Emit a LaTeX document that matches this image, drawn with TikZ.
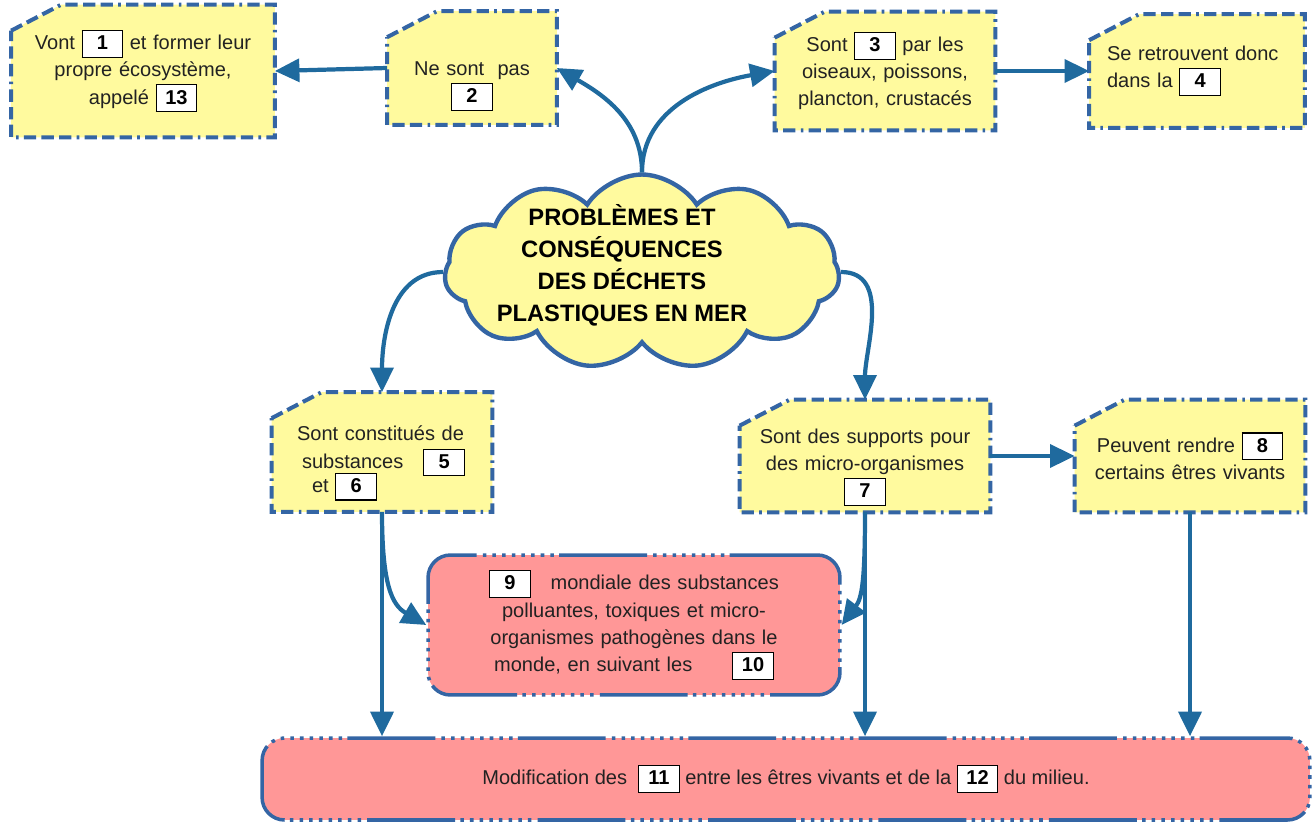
\documentclass[tikz,border=0pt]{standalone}
\usepackage{fontspec}
\setmainfont{Liberation Sans}
\usepackage{tikz}
\usetikzlibrary{shapes.symbols}
\usetikzlibrary{positioning, arrows.meta, backgrounds, calc}

\definecolor{boxline}{HTML}{3465A4}
\definecolor{arrowblue}{HTML}{1F6A9E}
\definecolor{boxyellow}{HTML}{FFFA9E}
\definecolor{boxred}{HTML}{FF9797}
\definecolor{txt}{HTML}{222222}

\setlength{\fboxsep}{1.8pt}
\setlength{\fboxrule}{0.6pt}
\newcommand{\nb}[1]{\fcolorbox{black}{white}{\makebox[0.66cm]{\rule[-2.2pt]{0pt}{11pt}\bfseries\color{black}#1}}}

\tikzset{
  card/.style={inner sep=0pt, align=center, text=txt, font=\fontsize{11.4}{15.5}\selectfont},
  cardline/.style={draw=boxline, fill=boxyellow, line width=2.3pt, dash pattern=on 7pt off 3pt on 7pt off 3pt on 7pt off 3pt on 1.5pt off 3pt},
  redbox/.style={draw=boxline, fill=boxred, line width=2pt, rounded corners=0.45cm, inner sep=0pt, align=center, text=txt, font=\fontsize{11.4}{15.5}\selectfont,
    dash pattern=on 50pt off 3pt on 2pt off 3.5pt on 2pt off 3.5pt on 2pt off 3.5pt on 2pt off 3.5pt on 2pt off 3.5pt on 2pt off 3.5pt on 2pt off 3.5pt on 2pt off 3.5pt},
  flow/.style={arrowblue, line width=2.4pt, -{Triangle[length=14pt,width=13pt]}},
}

\begin{document}
\begin{tikzpicture}[x=0.02cm, y=-0.02cm]
  \useasboundingbox (0,0) rectangle (1313,825);

  % top row
  \node[card, minimum width=5.26cm, minimum height=2.64cm, text width=5cm] at (143,71) (vont) {Vont \nb{1} et former leur\\ propre écosystème,\\ appelé \nb{13}};
  \node[card, minimum width=3.38cm, minimum height=2.26cm, text width=3.2cm] at (472,68) (nesont) {\rule{0pt}{1cm}Ne sont\ \ pas\\ \nb{2}};
  \node[card, minimum width=4.4cm, minimum height=2.36cm, text width=4.2cm] at (885,71) (sont) {Sont \nb{3} par les\\ oiseaux, poissons,\\ plancton, crustacés};
  \node[card, minimum width=4.3cm, minimum height=2.26cm, text width=3.6cm, align=left] at (1197,71) (retrouvent) {Se retrouvent donc\\ dans la \nb{4}};

  % cloud
  \node[cloud, cloud puffs=11, cloud puff arc=115, draw=boxline, fill=boxyellow, line width=2.5pt, minimum width=7.9cm, minimum height=3.9cm] at (642,272) (cloud) {};
  \node[align=center, text=black, font=\fontsize{13.5}{18.2}\selectfont\bfseries] at (622,265) (title) {PROBLÈMES ET\\ CONSÉQUENCES\\ DES DÉCHETS\\ PLASTIQUES EN MER};

  % middle row
  \node[card, minimum width=4.4cm, minimum height=2.38cm, text width=3.6cm, align=left] at (382,452) (constitues) {\rule{0pt}{0.75cm}\hspace*{0.1cm}Sont constitués de\\ \hspace*{0.2cm}substances\quad\nb{5}\\[-3pt] \hspace*{0.4cm}et \nb{6}};
  \node[card, minimum width=5cm, minimum height=2.24cm, text width=4.8cm] at (865,456) (supports) {\rule{0pt}{0.75cm}Sont des supports pour\\ des micro-organismes\\ \nb{7}};
  \node[card, minimum width=4.6cm, minimum height=2.24cm, text width=4.4cm] at (1190,456) (peuvent) {Peuvent rendre \nb{8}\\ certains êtres vivants};

  \begin{scope}[on background layer]
    \foreach \n in {vont, nesont, sont, retrouvent, constitues, supports, peuvent}
      \draw[cardline] ($(\n.north west)+(0,26)$) -- ($(\n.north west)+(50,0)$) -- (\n.north east) -- (\n.south east) -- (\n.south west) -- cycle;
  \end{scope}

  % red boxes
  \node[redbox, minimum width=8.24cm, minimum height=2.8cm, text width=7.6cm] at (634,625) (mondiale) {\nb{9}\quad mondiale des substances\\ polluantes, toxiques et micro-\\ organismes pathogènes dans le\\ monde, en suivant les\qquad\nb{10}};
  \node[redbox, minimum width=20.96cm, minimum height=1.64cm] at (786,779) (modif) {Modification des \ \nb{11} entre les êtres vivants et de la \nb{12} du milieu.};

  % connectors
  \draw[flow] (cloud.north) to[out=90, in=-30] (nesont.east);
  \draw[flow] (cloud.north) to[out=90, in=190] (sont.west);
  \draw[flow] (nesont.west) -- (vont.east);
  \draw[flow] (sont.east) -- (retrouvent.west);
  \draw[flow] (cloud.west) to[out=180, in=90] (constitues.north);
  \draw[flow] (cloud.east) to[out=0, in=90] (supports.north);
  \draw[flow] (supports.east) -- (peuvent.west);
  \draw[flow] (constitues.south) -- (constitues.south |- modif.north);
  \draw[flow] (supports.south) -- (supports.south |- modif.north);
  \draw[flow] (peuvent.south) -- (peuvent.south |- modif.north);
  \draw[flow] (constitues.south) .. controls (382,585) and (392,605) .. (mondiale.west);
  \draw[flow] (supports.south) .. controls (865,580) and (862,598) .. (mondiale.east);
\end{tikzpicture}
\end{document}
